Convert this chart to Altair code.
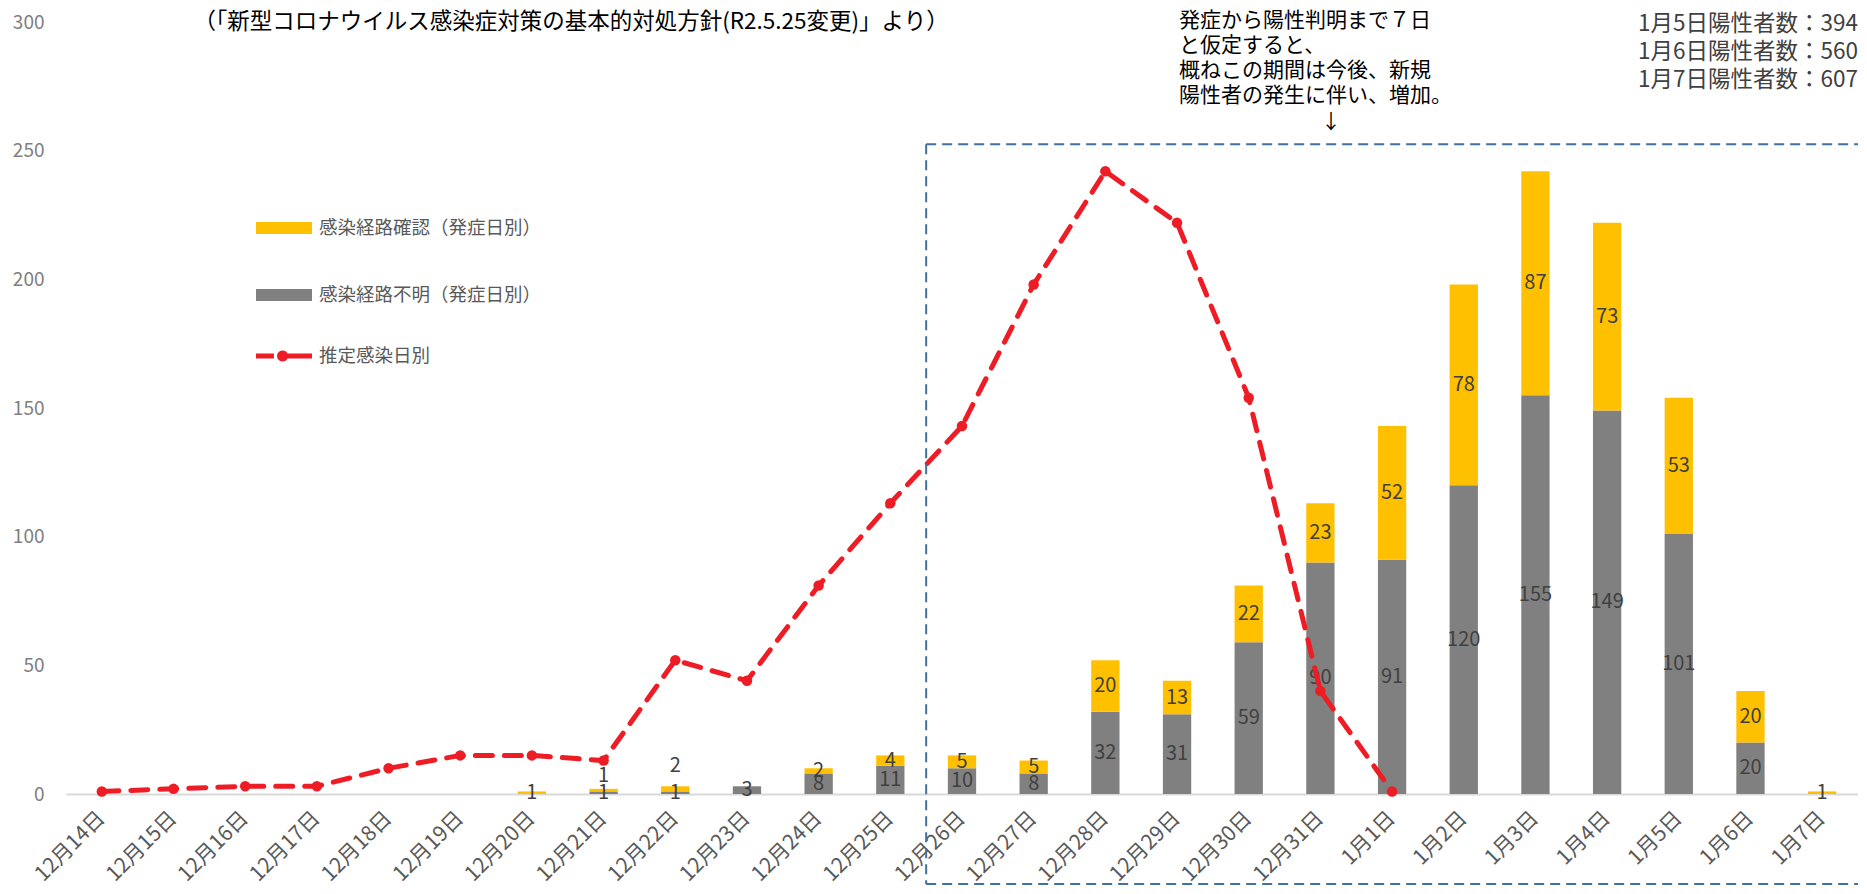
import math
import altair as alt
import pandas as pd

# ---------------- data ----------------
dates = ["12月14日", "12月15日", "12月16日", "12月17日", "12月18日", "12月19日",
         "12月20日", "12月21日", "12月22日", "12月23日", "12月24日", "12月25日",
         "12月26日", "12月27日", "12月28日", "12月29日", "12月30日", "12月31日",
         "1月1日", "1月2日", "1月3日", "1月4日", "1月5日", "1月6日", "1月7日"]
confirmed = [0, 0, 0, 0, 0, 0, 1, 1, 2, 0, 2, 4, 5, 5, 20, 13, 22, 23, 52, 78, 87, 73, 53, 20, 1]
unknown = [0, 0, 0, 0, 0, 0, 0, 1, 1, 3, 8, 11, 10, 8, 32, 31, 59, 90, 91, 120, 155, 149, 101, 20, 0]
infection_dates = dates[:19]
infection = [1, 2, 3, 3, 10, 15, 15, 13, 52, 44, 81, 113, 143, 198, 242, 222, 154, 40, 1]

series_confirmed = "感染経路確認（発症日別）"
series_unknown = "感染経路不明（発症日別）"
series_line = "推定感染日別"

title_text = "（「新型コロナウイルス感染症対策の基本的対処方針(R2.5.25変更)」より）"
note_lines = ["発症から陽性判明まで７日", "と仮定すると、", "概ねこの期間は今後、新規", "陽性者の発生に伴い、増加。"]
arrow_text = "↓"
positives = ["1月5日陽性者数：394", "1月6日陽性者数：560", "1月7日陽性者数：607"]
box_start = "12月26日"
box_top_value = 252.5

# ---------------- styles ----------------
YELLOW = "#FFC000"
GRAY = "#808080"
RED = "#EE1C25"
BLUE = "#41719C"
FONT = "Noto Sans CJK JP"
W, H = 1792, 772
STEP = W / len(dates)

# legend symbol for the dashed line with a dot (normalised [-1,1] path)
_cx, _r = -0.05, 0.2
_circle = "M" + "L".join(
    f"{_cx + _r * math.cos(2 * math.pi * i / 20):.3f},{_r * math.sin(2 * math.pi * i / 20):.3f}"
    for i in range(20)) + "Z"
LINE_SYMBOL = "M-1,-0.09H-0.36V0.09H-1Z M-0.1,-0.09H1V0.09H-0.1Z " + _circle
BAR_SYMBOL = "M-1,-0.214H1V0.214H-1Z"

# ---------------- tables ----------------
bar_rows, lab_rows = [], []
for d, c, u in zip(dates, confirmed, unknown):
    if u > 0:
        bar_rows.append({"date": d, "type": series_unknown, "y0": 0, "y1": u})
        lab_rows.append({"date": d, "text": str(u), "ly": u / 2})
    if c > 0:
        bar_rows.append({"date": d, "type": series_confirmed, "y0": u, "y1": u + c})
        total = u + c
        if 0 < u and total <= 3:
            ly = total + 3 * c + 2  # small stacked segment: label lifted above
        else:
            ly = u + c / 2
        lab_rows.append({"date": d, "text": str(c), "ly": ly})
bars_df = pd.DataFrame(bar_rows)
labs_df = pd.DataFrame(lab_rows)
line_df = pd.DataFrame({"date": infection_dates, "v": infection, "series": series_line})
box_df = pd.DataFrame({"date": [box_start], "top": [box_top_value]})
one = pd.DataFrame({"k": [0]})

xscale = alt.Scale(domain=dates, paddingInner=0.605, paddingOuter=0.3025)
yscale = alt.Scale(domain=[0, 300], nice=False)

x_enc = alt.X("date:N", scale=xscale, sort=dates, title=None,
              axis=alt.Axis(labelAngle=-45, labelFontSize=21, labelColor="#595959",
                            labelFont=FONT, domainColor="#D9D9D9", domainWidth=2,
                            ticks=False, labelPadding=21, labelAlign="right",
                            labelBaseline="middle", grid=False))

bars = alt.Chart(bars_df).mark_bar().encode(
    x=x_enc,
    y=alt.Y("y1:Q", scale=yscale, title=None,
            axis=alt.Axis(values=[0, 50, 100, 150, 200, 250, 300], domain=False,
                          ticks=False, grid=False, labelFontSize=19,
                          labelColor="#7F7F7F", labelFont=FONT, labelPadding=22)),
    y2="y0:Q",
    color=alt.Color("type:N",
                    scale=alt.Scale(domain=[series_confirmed, series_unknown],
                                    range=[YELLOW, GRAY]),
                    legend=alt.Legend(orient="none", legendX=190, legendY=178,
                                      title=None, symbolType=BAR_SYMBOL,
                                      symbolSize=3136, symbolStrokeWidth=0,
                                      rowPadding=29, labelOffset=7, labelFontSize=18.5,
                                      labelColor="#595959", labelFont=FONT,
                                      labelLimit=400)),
)

labels = alt.Chart(labs_df).mark_text(fontSize=20, color="#404040", font=FONT,
                                      baseline="middle").encode(
    x=alt.X("date:N", scale=xscale, sort=dates),
    y=alt.Y("ly:Q", scale=yscale),
    text="text:N",
)

line = alt.Chart(line_df).mark_line(color=RED, strokeWidth=5, strokeDash=[17, 12],
                                    strokeCap="round").encode(
    x=alt.X("date:N", scale=xscale, sort=dates),
    y=alt.Y("v:Q", scale=yscale),
)

points = alt.Chart(line_df).mark_circle(size=110, opacity=1).encode(
    x=alt.X("date:N", scale=xscale, sort=dates),
    y=alt.Y("v:Q", scale=yscale),
    fill=alt.Fill("series:N", scale=alt.Scale(domain=[series_line], range=[RED]),
                  legend=alt.Legend(orient="none", legendX=190, legendY=306, title=None,
                                    symbolType=LINE_SYMBOL,
                                    symbolSize=3136, symbolStrokeWidth=0,
                                    symbolFillColor=RED, symbolOpacity=1,
                                    labelOffset=7, labelFontSize=18.5,
                                    labelColor="#595959", labelFont=FONT)),
)

rule_style = dict(color=BLUE, strokeWidth=2, strokeDash=[10, 6])
box_top = alt.Chart(box_df).mark_rule(xOffset=-STEP / 2, **rule_style).encode(
    x=alt.X("date:N", scale=xscale, sort=dates),
    x2=alt.value(W + 200),
    y=alt.Y("top:Q", scale=yscale),
)
box_left = alt.Chart(box_df).mark_rule(xOffset=-STEP / 2, **rule_style).encode(
    x=alt.X("date:N", scale=xscale, sort=dates),
    y=alt.Y("top:Q", scale=yscale),
    y2=alt.value(H + 90),
)
box_bottom = alt.Chart(box_df).mark_rule(xOffset=-STEP / 2, **rule_style).encode(
    x=alt.X("date:N", scale=xscale, sort=dates),
    x2=alt.value(W + 200),
    y=alt.value(H + 90),
)

title = alt.Chart(one).mark_text(text=title_text, fontSize=22.5, font=FONT, color="#000000",
                                 align="center", baseline="middle").encode(
    x=alt.value(505), y=alt.value(0))
note = alt.Chart(one).mark_text(text=note_lines, fontSize=21, font=FONT, color="#000000",
                                align="left", baseline="middle", lineHeight=25).encode(
    x=alt.value(1113), y=alt.value(-1))
arrow = alt.Chart(one).mark_text(text=arrow_text, fontSize=20, font=FONT, color="#000000",
                                 align="center", baseline="middle").encode(
    x=alt.value(1265), y=alt.value(101))
pos = alt.Chart(one).mark_text(text=positives, fontSize=22.5, font=FONT, color="#404040",
                               align="right", baseline="middle", lineHeight=28).encode(
    x=alt.value(W), y=alt.value(2))

chart = alt.layer(bars, labels, line, points, box_top, box_left, box_bottom,
                  title, note, arrow, pos).properties(
    width=W, height=H,
    padding={"left": 58, "top": 14, "right": 0, "bottom": 92},
    autosize=alt.AutoSizeParams(type="none"),
).configure_view(stroke=None).configure_legend(
    labelFont=FONT
)

chart.save("out.html", embed_options={"renderer": "svg", "actions": False})
